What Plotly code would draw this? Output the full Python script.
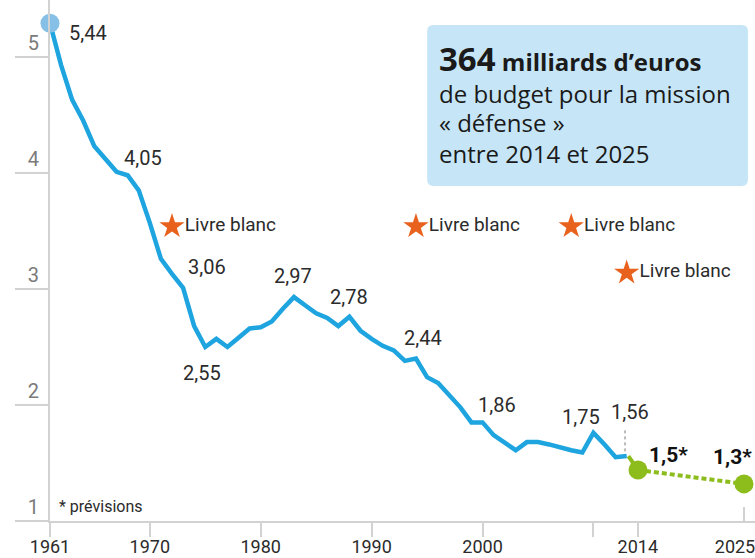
import plotly.graph_objects as go

# ---------------- data ----------------
years = list(range(1961, 2014))
values = [5.29, 4.93, 4.63, 4.45, 4.23, 4.12, 4.01, 3.98, 3.85, 3.57,
          3.26, 3.13, 3.01, 2.68, 2.50, 2.57, 2.50, 2.58, 2.66, 2.67,
          2.72, 2.83, 2.93, 2.86, 2.79, 2.75, 2.68, 2.76, 2.64, 2.57,
          2.51, 2.47, 2.38, 2.40, 2.24, 2.19, 2.08, 1.98, 1.85, 1.85,
          1.74, 1.67, 1.61, 1.68, 1.68, 1.66, 1.63, 1.61, 1.59, 1.76,
          1.66, 1.55, 1.56]

forecast_years = [2014, 2025]
forecast_values = [1.44, 1.32]
forecast_labels = ["1,5*", "1,3*"]

label_years = [1961, 1967, 1973, 1975, 1983, 1988, 1994, 2000, 2010, 2013]
label_texts = ["5,44", "4,05", "3,06", "2,55", "2,97", "2,78", "2,44", "1,86", "1,75", "1,56"]

livre_years = [1972, 1994, 2008, 2013]
livre_values = [3.54, 3.54, 3.54, 3.14]
livre_text = "Livre blanc"

x_tickvals = [1961, 1970, 1980, 1990, 2000, 2010, 2014]
x_ticktext = ["1961", "1970", "1980", "1990", "2000", "", "2014"]
y_tickvals = [1, 2, 3, 4, 5]

# ---------------- styles ----------------
BLUE = "#1ea4df"
BLUE_DOT = "#86c0e6"
GREEN = "#8dbd1c"
ORANGE = "#e8621e"
AXIS = "#d2d2d2"
TXT = "#2b2b2b"
FONT = "Roboto, Liberation Sans, sans-serif"
BOXFONT = "Open Sans, Noto Sans, sans-serif"

# offsets (px) of each value label from its data point
label_dx = [38, 26, 24, -3, -1, 0, 7, 14, -12, 3]
label_dy = [-10, 14, 21, -26, 21, 20, 21, 17, 16, 44]
fc_dx = [30, -12]
fc_dy = [15, 27]

fig = go.Figure()

fig.add_trace(go.Scatter(x=years, y=values, mode="lines",
                         line=dict(color=BLUE, width=4.5),
                         cliponaxis=False, hoverinfo="skip"))
fig.add_trace(go.Scatter(x=years[:1], y=values[:1], mode="markers",
                         marker=dict(color=BLUE_DOT, size=19),
                         cliponaxis=False, hoverinfo="skip"))

fig.add_trace(go.Scatter(x=[years[-1], forecast_years[0]], y=[values[-1], forecast_values[0]],
                         mode="lines", xaxis="x2", line=dict(color=GREEN, width=4),
                         cliponaxis=False, hoverinfo="skip"))
fig.add_trace(go.Scatter(x=forecast_years, y=forecast_values, mode="lines+markers",
                         xaxis="x2", line=dict(color=GREEN, width=4, dash="5px,3px"),
                         marker=dict(color=GREEN, size=19),
                         cliponaxis=False, hoverinfo="skip"))

fig.add_trace(go.Scatter(x=livre_years, y=livre_values, mode="markers+text",
                         marker=dict(symbol="star", color=ORANGE, size=19, line=dict(width=0)),
                         text=[livre_text] * len(livre_years), textposition="middle right",
                         textfont=dict(family=FONT, size=19, color=TXT),
                         cliponaxis=False, hoverinfo="skip"))

annotations = []
vmap = dict(zip(years, values))
for yr, t, dx, dy in zip(label_years, label_texts, label_dx, label_dy):
    annotations.append(dict(x=yr, y=vmap[yr], xref="x", yref="y", text=t, showarrow=False,
                            xshift=dx, yshift=dy, font=dict(family=FONT, size=20, color=TXT)))
for yr, v, t, dx, dy in zip(forecast_years, forecast_values, forecast_labels, fc_dx, fc_dy):
    annotations.append(dict(x=yr, y=v, xref="x2", yref="y", text="<b>" + t + "</b>", showarrow=False,
                            xshift=dx, yshift=dy, font=dict(family=FONT, size=21, color="#111")))

annotations.append(dict(x=0.01, y=0.027, xref="paper", yref="paper", text="* prévisions",
                        showarrow=False, xanchor="left", yanchor="middle",
                        font=dict(family=FONT, size=16, color=TXT)))

box_lines = [
    ("<b><span style='font-size:33px'>364</span> milliards d’euros</b>", 0.887),
    ("de budget pour la mission", 0.821),
    ("« défense »", 0.764),
    ("entre 2014 et 2025", 0.706),
]
for t, yy in box_lines:
    annotations.append(dict(x=0.549, y=yy, xref="paper", yref="paper", text=t, showarrow=False,
                            xanchor="left", yanchor="middle",
                            font=dict(family=BOXFONT, size=24, color="#1a1a1a")))

x0, x1, y0, y1 = 0.535, 0.990, 0.643, 0.952
rx, ry = 0.009, 0.012
path = (f"M {x0+rx},{y0} L {x1-rx},{y0} Q {x1},{y0} {x1},{y0+ry} L {x1},{y1-ry} "
        f"Q {x1},{y1} {x1-rx},{y1} L {x0+rx},{y1} Q {x0},{y1} {x0},{y1-ry} "
        f"L {x0},{y0+ry} Q {x0},{y0} {x0+rx},{y0} Z")
shapes = [dict(type="path", path=path, xref="paper", yref="paper",
               fillcolor="#c6e6f7", line=dict(width=0), layer="below")]
shapes.append(dict(type="line", xref="x", yref="y", x0=years[-1] - 0.15, x1=years[-1] - 0.15,
                   y0=values[-1] + 0.04, y1=values[-1] + 0.24,
                   line=dict(color="#777", width=1, dash="dot")))

fig.update_layout(
    width=755, height=558,
    margin=dict(l=50, r=0, t=0, b=37),
    paper_bgcolor="white", plot_bgcolor="white",
    showlegend=False,
    annotations=annotations, shapes=shapes,
    xaxis=dict(range=[1961, 2024.57], showgrid=False, zeroline=False, automargin=False,
               showline=True, linecolor=AXIS, linewidth=2,
               ticks="outside", ticklen=14, tickwidth=1.5, tickcolor=AXIS,
               tickvals=x_tickvals, ticktext=x_ticktext, ticklabelstandoff=-6,
               tickfont=dict(family=FONT, size=18, color=TXT)),
    xaxis2=dict(range=[1952.98, 2026.14], overlaying="x", anchor="y", side="bottom",
                showgrid=False, zeroline=False, showline=False, automargin=False,
                ticks="inside", ticklen=14, tickwidth=1.5, tickcolor=AXIS,
                tickvals=[2025], ticktext=["2025"], ticklabelstandoff=13,
                ticklabeloverflow="allow", ticklabelshift=-9,
                tickfont=dict(family=FONT, size=18, color=TXT)),
    yaxis=dict(range=[1, 5.491], showgrid=False, zeroline=False, automargin=False,
               showline=True, linecolor=AXIS, linewidth=2,
               ticks="outside", ticklen=33, tickwidth=1.5, tickcolor=AXIS,
               tickvals=y_tickvals, ticklabelstandoff=-28, ticklabelshift=-14,
               tickfont=dict(family=FONT, size=20, color="#7a7a7a")),
)

fig.write_html("out.html", config={"displayModeBar": False},
               post_script="document.body.style.margin='0';document.body.style.overflow='hidden';")
